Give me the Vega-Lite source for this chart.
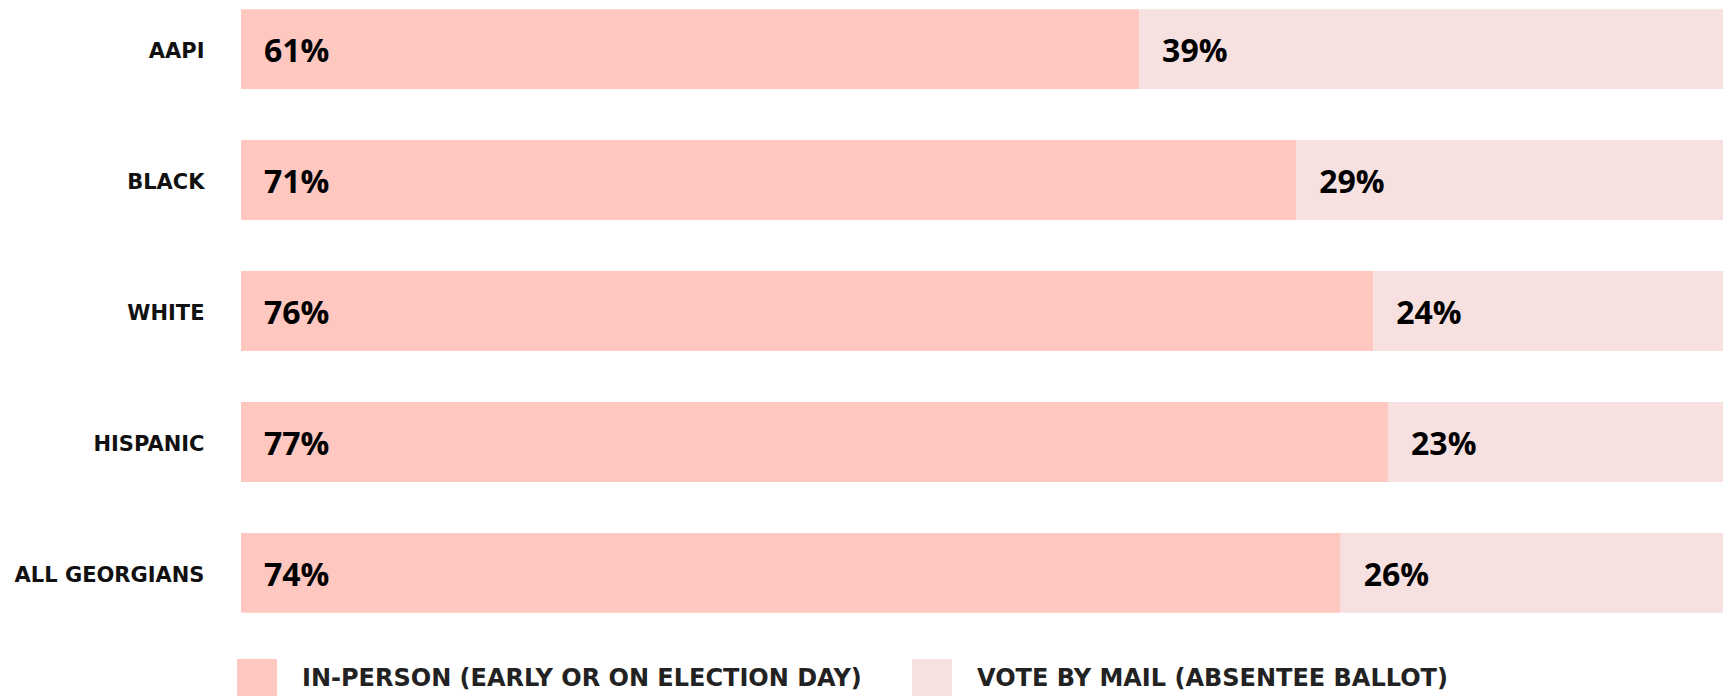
{
  "$schema": "https://vega.github.io/schema/vega-lite/v6.json",
  "autosize": "none",
  "padding": {"left": 241, "top": 0, "right": 0, "bottom": 74},
  "width": 1482,
  "height": 622,
  "background": "white",
  "config": {"view": {"stroke": null}},
  "data": {
    "values": [
      {"group": "AAPI", "method": "IN-PERSON (EARLY OR ON ELECTION DAY)", "order": 1, "value": 0.606},
      {"group": "AAPI", "method": "VOTE BY MAIL (ABSENTEE BALLOT)", "order": 2, "value": 0.394},
      {"group": "BLACK", "method": "IN-PERSON (EARLY OR ON ELECTION DAY)", "order": 1, "value": 0.712},
      {"group": "BLACK", "method": "VOTE BY MAIL (ABSENTEE BALLOT)", "order": 2, "value": 0.288},
      {"group": "WHITE", "method": "IN-PERSON (EARLY OR ON ELECTION DAY)", "order": 1, "value": 0.764},
      {"group": "WHITE", "method": "VOTE BY MAIL (ABSENTEE BALLOT)", "order": 2, "value": 0.236},
      {"group": "HISPANIC", "method": "IN-PERSON (EARLY OR ON ELECTION DAY)", "order": 1, "value": 0.774},
      {"group": "HISPANIC", "method": "VOTE BY MAIL (ABSENTEE BALLOT)", "order": 2, "value": 0.226},
      {"group": "ALL GEORGIANS", "method": "IN-PERSON (EARLY OR ON ELECTION DAY)", "order": 1, "value": 0.742},
      {"group": "ALL GEORGIANS", "method": "VOTE BY MAIL (ABSENTEE BALLOT)", "order": 2, "value": 0.258}
    ]
  },
  "transform": [
    {"stack": "value", "groupby": ["group"], "sort": [{"field": "order", "order": "ascending"}], "as": ["v0", "v1"]}
  ],
  "encoding": {
    "y": {
      "field": "group",
      "type": "nominal",
      "sort": null,
      "scale": {"paddingInner": 0.39, "paddingOuter": 0.07},
      "axis": {
        "title": null,
        "domain": false,
        "ticks": false,
        "labelPadding": 37,
        "labelOffset": 3,
        "labelLimit": 240,
        "labelFont": "DejaVu Sans",
        "labelFontWeight": "bold",
        "labelFontSize": 21,
        "labelColor": "#111111"
      }
    }
  },
  "layer": [
    {
      "mark": {"type": "bar"},
      "encoding": {
        "x": {"field": "v0", "type": "quantitative", "scale": {"domain": [0, 1], "nice": false}, "axis": null},
        "x2": {"field": "v1"},
        "color": {
          "field": "method",
          "type": "nominal",
          "scale": {
            "domain": ["IN-PERSON (EARLY OR ON ELECTION DAY)", "VOTE BY MAIL (ABSENTEE BALLOT)"],
            "range": ["#FEC7BF", "#F6E1E0"]
          },
          "legend": {
            "title": null,
            "orient": "none",
            "direction": "horizontal",
            "legendX": -4,
            "legendY": 659,
            "symbolType": "square",
            "symbolSize": 1600,
            "symbolStrokeWidth": 0,
            "symbolOpacity": 1,
            "labelOffset": 25,
            "columnPadding": 50,
            "labelFont": "DejaVu Sans",
            "labelFontWeight": "bold",
            "labelFontSize": 24,
            "labelColor": "#222222",
            "labelLimit": 800
          }
        }
      }
    },
    {
      "mark": {"type": "text", "align": "left", "baseline": "middle", "dx": 23, "dy": 3, "font": "Open Sans", "fontWeight": "bold", "fontSize": 32, "color": "#000000"},
      "encoding": {
        "x": {"field": "v0", "type": "quantitative"},
        "text": {"field": "value", "type": "quantitative", "format": ".0%"}
      }
    }
  ]
}
